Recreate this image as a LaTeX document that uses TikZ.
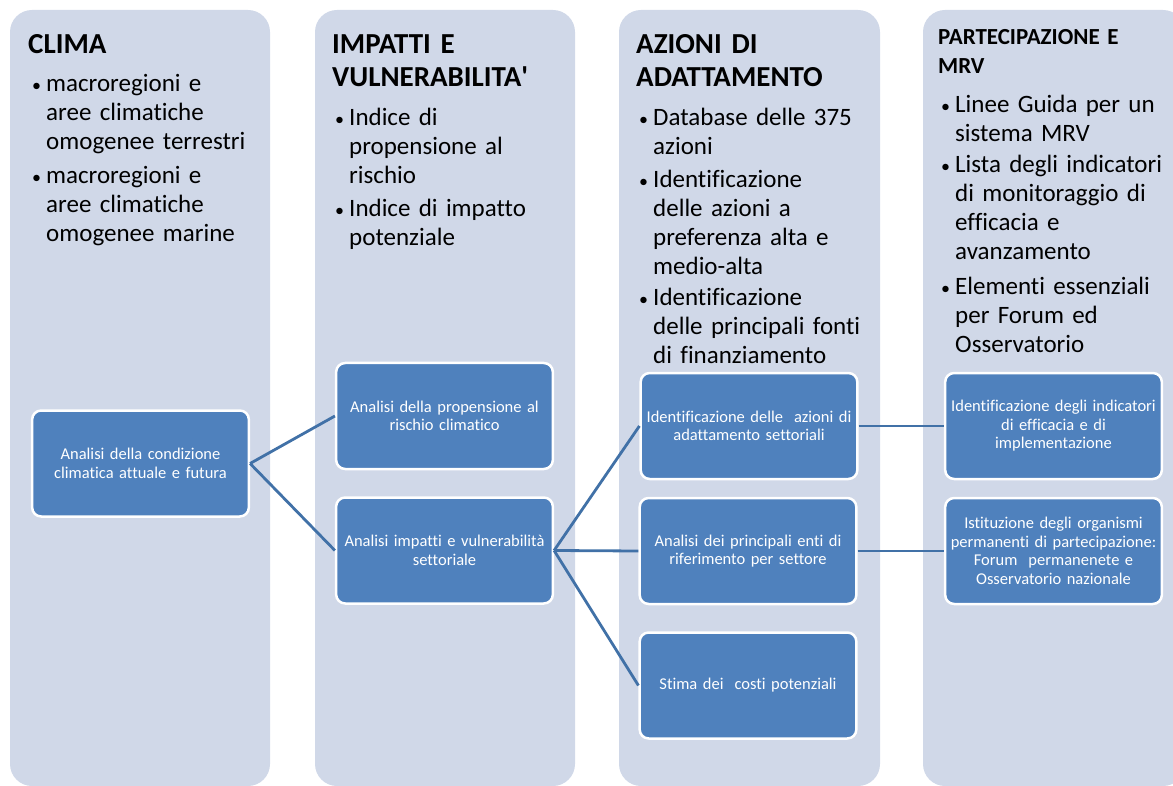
\documentclass[tikz,border=0pt]{standalone}
\usepackage{fontspec}
\setmainfont[Ligatures={NoCommon}]{Carlito}
\definecolor{colbg}{RGB}{208,216,232}
\definecolor{boxblue}{RGB}{79,129,189}
\definecolor{linkblue}{RGB}{65,113,167}
\tikzset{
	column/.style={fill=colbg, rounded corners=22pt},
	blubox/.style={draw=white, line width=2.5pt, fill=boxblue, rounded corners=9pt, minimum width=214pt, minimum height=106pt, text width=210pt, align=center, text=white, font=\fontsize{16.5}{18.5}\selectfont},
	link/.style={draw=linkblue, line width=2.8pt},
	header/.style={anchor=base west, text width=240pt, align=left, inner sep=0pt, font=\bfseries\fontsize{29}{33}\selectfont},
	item/.style={anchor=base west, text width=230pt, align=left, inner sep=0pt, font=\fontsize{25}{29}\selectfont}
}
\newcommand{\blt}{\llap{{\fontsize{18}{18}\selectfont\textbullet}\hspace{5pt}}}
\begin{document}
\begin{tikzpicture}[x=1pt,y=-1pt]
		\useasboundingbox (0,0) rectangle (1173,786);
		\fill[column] (10,10) rectangle (270,786);
		\fill[column] (315,10) rectangle (575,786);
		\fill[column] (619,10) rectangle (880,786);
		\fill[column] (923,10) rectangle (1185,786);
		\node[header] (hclima) at (28,54) {CLIMA};
		\node[header] (himpatti) at (332,54) {IMPATTI E\\VULNERABILITA\textquotesingle};
		\node[header] (hazioni) at (636,54) {AZIONI DI\\ADATTAMENTO};
		\node[header, font=\bfseries\fontsize{23}{29}\selectfont] (hpart) at (938,45) {PARTECIPAZIONE E\\MRV};
		\node[item] (c1a) at (46,92) {\blt macroregioni e\\aree climatiche\\omogenee terrestri};
		\node[item] (c1b) at (46,184) {\blt macroregioni e\\aree climatiche\\omogenee marine};
		\node[item] (c2a) at (349,126) {\blt Indice di\\propensione al\\rischio};
		\node[item] (c2b) at (349,217) {\blt Indice di impatto\\potenziale};
		\node[item] (c3a) at (653,126) {\blt Database delle 375\\azioni};
		\node[item] (c3b) at (653,188) {\blt Identificazione\\delle azioni a\\preferenza alta e\\medio-alta};
		\node[item] (c3c) at (653,306) {\blt Identificazione\\delle principali fonti\\di finanziamento};
		\node[item] (c4a) at (955,113) {\blt Linee Guida per un\\sistema MRV};
		\node[item] (c4b) at (955,173) {\blt Lista degli indicatori\\di monitoraggio di\\efficacia e\\avanzamento};
		\node[item] (c4c) at (955,295) {\blt Elementi essenziali\\per Forum ed\\Osservatorio};
		\node[blubox] (clima) at (140.5,463.5) {Analisi della condizione\\climatica attuale e futura};
		\node[blubox] (rischio) at (444.5,416) {Analisi della propensione al\\rischio climatico};
		\node[blubox] (vulner) at (444.5,550.5) {Analisi impatti e vulnerabilità\\settoriale};
		\node[blubox] (azioni) at (749,426) {Identificazione delle\ \ azioni di\\adattamento settoriali};
		\node[blubox] (enti) at (748,551) {Analisi dei principali enti di\\riferimento per settore};
		\node[blubox] (costi) at (748,685.5) {Stima dei\ \ costi potenziali};
		\node[blubox] (indic) at (1053.5,426) {Identificazione degli indicatori\\di efficacia e di\\implementazione};
		\node[blubox] (forum) at (1053.5,551) {Istituzione degli organismi\\permanenti di partecipazione:\\Forum\ \ permanenete e\\Osservatorio nazionale};
		\draw[link] (clima.east) -- (rischio.west);
		\draw[link] (clima.east) -- (vulner.west);
		\draw[link] (vulner.east) -- (azioni.west);
		\draw[link] (vulner.east) -- (enti.west);
		\draw[link] (vulner.east) -- (costi.west);
		\draw[link] (azioni.east) -- (indic.west);
		\draw[link] (enti.east) -- (forum.west);
	\end{tikzpicture}
\end{document}
